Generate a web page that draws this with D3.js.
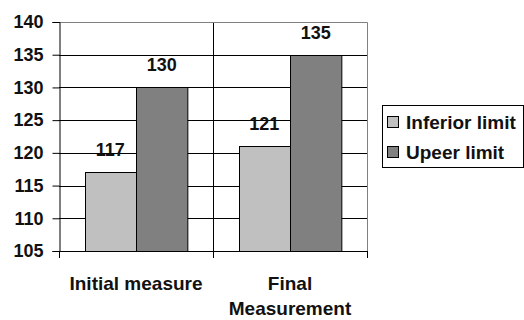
<!DOCTYPE html>
<html>
<head>
<meta charset="utf-8">
<script src="https://cdn.jsdelivr.net/npm/d3@7"></script>
<style>
  html, body { margin: 0; padding: 0; background: #fff; }
  svg { display: block; }
  text { font-family: "Liberation Sans", Arial, sans-serif; font-weight: bold; fill: #111; }
</style>
</head>
<body>
<svg id="chart" width="524" height="320"></svg>
<script>
// Chart data
const categories = ["Initial measure", "Final Measurement"];
const seriesNames = ["Inferior limit", "Upeer limit"];
const inferiorValues = [117, 121];
const upperValues = [130, 135];
const yTicks = [105, 110, 115, 120, 125, 130, 135, 140];
const seriesColors = ["#c0c0c0", "#808080"];

const seriesValues = [inferiorValues, upperValues];
const rows = categories.map((c, i) => ({
  category: c,
  values: seriesNames.map((s, j) => ({ series: s, value: seriesValues[j][i], color: seriesColors[j] }))
}));

const svg = d3.select("#chart");
const plot = { left: 59, right: 367, top: 22, bottom: 251 };

const y = d3.scaleLinear().domain([105, 140]).range([plot.bottom, plot.top]);
const x0 = d3.scaleBand().domain(categories).range([plot.left, plot.right]).padding(0);
const x1 = d3.scaleBand().domain(seriesNames).range([0, x0.bandwidth()])
  .paddingInner(0).paddingOuter(0.5);

// Horizontal gridlines
svg.append("g")
  .selectAll("line")
  .data(yTicks.filter(t => t > 105 && t < 140))
  .join("line")
  .attr("x1", plot.left).attr("x2", plot.right)
  .attr("y1", d => Math.round(y(d)) + 0.5).attr("y2", d => Math.round(y(d)) + 0.5)
  .attr("stroke", "#000").attr("stroke-width", 1);

// Category separator lines
svg.append("g")
  .selectAll("line")
  .data(categories.slice(1))
  .join("line")
  .attr("x1", d => Math.round(x0(d)) + 0.5).attr("x2", d => Math.round(x0(d)) + 0.5)
  .attr("y1", plot.top).attr("y2", plot.bottom)
  .attr("stroke", "#000");

// Plot border (top and right)
svg.append("path")
  .attr("d", `M${plot.left},${plot.top + 0.5}H${plot.right + 0.5}V${plot.bottom}`)
  .attr("fill", "none").attr("stroke", "#808080");

// Bars
const groups = svg.append("g")
  .selectAll("g")
  .data(rows)
  .join("g")
  .attr("transform", d => `translate(${x0(d.category)},0)`);

groups.selectAll("rect")
  .data(d => d.values)
  .join("rect")
  .attr("x", d => Math.round(x1(d.series)) + 0.5)
  .attr("y", d => Math.round(y(d.value)) + 0.5)
  .attr("width", x1.bandwidth())
  .attr("height", d => Math.round(plot.bottom - y(d.value)))
  .attr("fill", d => d.color)
  .attr("stroke", "#000").attr("stroke-width", 1);

// Value labels
groups.selectAll("text")
  .data(d => d.values)
  .join("text")
  .attr("x", d => x1(d.series) + x1.bandwidth() / 2)
  .attr("y", d => y(d.value) - 16)
  .attr("text-anchor", "middle")
  .style("font-size", "18px")
  .text(d => d.value);

// Y axis
const yAxis = svg.append("g")
  .attr("transform", `translate(${plot.left + 0.5},0)`)
  .call(d3.axisLeft(y).tickValues(yTicks).tickSize(7).tickPadding(9).tickFormat(d3.format("d")));
yAxis.select(".domain").attr("stroke", "#000");
yAxis.selectAll(".tick line").attr("stroke", "#000");
yAxis.selectAll(".tick text")
  .style("font-size", "18px").style("font-family", "'Liberation Sans', Arial, sans-serif")
  .attr("fill", "#111");

// X axis
const xAxis = svg.append("g")
  .attr("transform", `translate(0,${plot.bottom + 0.5})`)
  .call(d3.axisBottom(x0).tickSize(0).tickFormat(""));
xAxis.select(".domain").attr("stroke", "#000").attr("d", `M${plot.left},0H${plot.right + 1}`);

// Category boundary tick marks below the axis
const boundaries = categories.map(c => x0(c)).concat([x0.range()[1]]);
svg.append("g")
  .selectAll("line")
  .data(boundaries)
  .join("line")
  .attr("x1", d => Math.round(d) + 0.5).attr("x2", d => Math.round(d) + 0.5)
  .attr("y1", plot.bottom).attr("y2", plot.bottom + 7)
  .attr("stroke", "#000");

// Category labels, wrapped to the band width
const labelFont = 19;
const catLabels = svg.append("g")
  .selectAll("text")
  .data(categories)
  .join("text")
  .attr("text-anchor", "middle")
  .style("font-size", labelFont + "px")
  .attr("x", d => x0(d) + x0.bandwidth() / 2)
  .attr("y", 290);

catLabels.each(function(d) {
  const t = d3.select(this);
  const words = d.split(" ");
  const cx = x0(d) + x0.bandwidth() / 2;
  let line = [];
  let tspan = t.append("tspan").attr("x", cx).attr("dy", 0);
  let lineNo = 0;
  for (const w of words) {
    line.push(w);
    tspan.text(line.join(" "));
    if (tspan.node().getComputedTextLength() > x0.bandwidth() - 8 && line.length > 1) {
      line.pop();
      tspan.text(line.join(" "));
      line = [w];
      lineNo++;
      tspan = t.append("tspan").attr("x", cx).attr("dy", "1.3em").text(w);
    }
  }
});

// Legend
const legend = svg.append("g");
legend.append("rect")
  .attr("x", 382.5).attr("y", 105.5).attr("width", 141).attr("height", 62)
  .attr("fill", "#fff").attr("stroke", "#000");
const items = legend.selectAll("g")
  .data(seriesNames)
  .join("g")
  .attr("transform", (d, i) => `translate(387,${122 + i * 30})`);
items.append("rect")
  .attr("x", 0.5).attr("y", -5.5).attr("width", 11).attr("height", 11)
  .attr("fill", (d, i) => seriesColors[i]).attr("stroke", "#000");
items.append("text")
  .attr("x", 19).attr("y", 0).attr("dy", "0.36em")
  .style("font-size", "19px")
  .text(d => d);
</script>
</body>
</html>
